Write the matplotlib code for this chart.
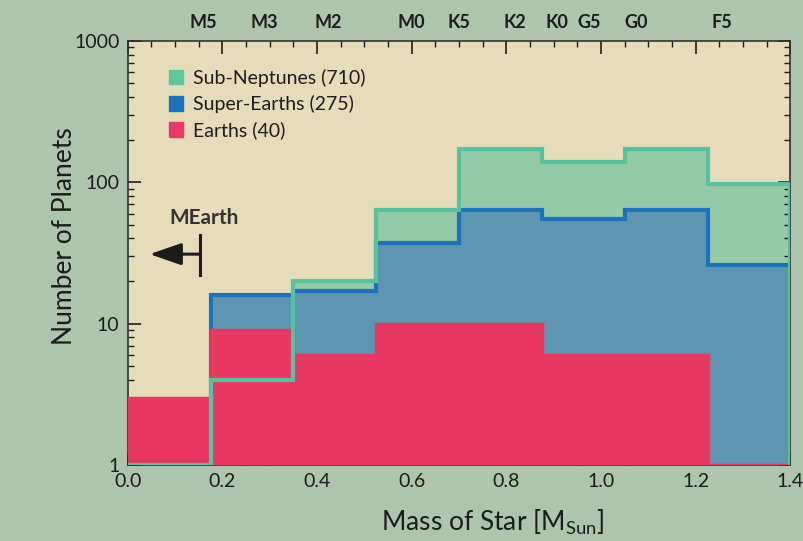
import matplotlib
matplotlib.use('Agg')
import matplotlib.pyplot as plt
from matplotlib.patches import Patch
from matplotlib.ticker import FixedLocator, MultipleLocator, NullFormatter

plt.rcParams['font.family'] = ['Lato', 'DejaVu Sans']
plt.rcParams['mathtext.fontset'] = 'custom'
plt.rcParams['mathtext.rm'] = 'Lato'

# bin edges in stellar mass (M_sun)
edges = [0.0, 0.175, 0.35, 0.525, 0.7, 0.875, 1.05, 1.225, 1.4]

# planets per bin
sub_neptunes = [1, 4, 20, 64, 173, 138, 171, 97]
super_earths = [1, 16, 17, 37, 64, 55, 64, 26]
earths = [3, 9, 6, 10, 10, 6, 6, 1]

labels = ['Sub-Neptunes (710)', 'Super-Earths (275)', 'Earths (40)']

# spectral types on the top axis
spec_types = ['M5', 'M3', 'M2', 'M0', 'K5', 'K2', 'K0', 'G5', 'G0', 'F5']
spec_mass = [0.16, 0.289, 0.423, 0.598, 0.70, 0.818, 0.907, 0.975, 1.075, 1.255]

bg_out = '#adc4ad'
bg_in = '#e6dcba'
green_fill = '#94caa8'
green_line = '#55c3a0'
blue_fill = '#5e96b2'
blue_line = '#1973be'
red = '#e83862'
ink = '#1c1c1c'

fig = plt.figure(figsize=(8.04, 5.41), dpi=100, facecolor=bg_out)
ax = fig.add_axes([0.159, 0.1405, 0.824, 0.784])
ax.set_facecolor(bg_in)
ax.set_yscale('log')

# fills, bottom to top
ax.stairs(sub_neptunes, edges, baseline=1, fill=True, color=green_fill, zorder=1)
ax.stairs(super_earths, edges, baseline=1, fill=True, color=blue_fill, zorder=2)
ax.stairs(super_earths, edges, baseline=1, fill=False, color=blue_line, lw=3, zorder=3)
ax.stairs(earths, edges, baseline=1, fill=True, color=red, zorder=4)
ax.stairs(earths, edges, baseline=1, fill=False, color=red, lw=2.5, zorder=4)
ax.stairs(sub_neptunes, edges, baseline=1, fill=False, color=green_line, lw=3, zorder=5)

ax.set_xlim(0, 1.4)
ax.set_ylim(1, 1000)

ax.xaxis.set_major_locator(MultipleLocator(0.2))
ax.xaxis.set_minor_locator(MultipleLocator(0.05))
ax.set_xticklabels([f'{v:.1f}' for v in ax.get_xticks()])
ax.yaxis.set_major_locator(FixedLocator([1, 10, 100, 1000]))
ax.set_yticklabels(['1', '10', '100', '1000'])
ax.yaxis.set_minor_formatter(NullFormatter())

ax.tick_params(which='both', direction='in', top=True, right=True,
               labelsize=14, colors=ink, pad=6)
ax.tick_params(which='major', length=9, width=1.2)
ax.tick_params(which='minor', length=4.5, width=1.0)
for s in ax.spines.values():
    s.set_color('#333333')
    s.set_linewidth(1.2)

ax.set_xlabel(r'Mass of Star [$\mathrm{M_{Sun}}$]', fontsize=19, color=ink)
ax.xaxis.set_label_coords(0.551, -0.1)
ax.set_ylabel('Number of Planets', fontsize=19, color=ink)
ax.yaxis.set_label_coords(-0.076, 0.54)

# spectral type labels along the top
top = ax.secondary_xaxis('top')
top.set_xticks(spec_mass)
top.set_xticklabels(spec_types, fontsize=13, fontweight='bold', color=ink)
top.tick_params(length=0, pad=7)
top.spines['top'].set_visible(False)

# MEarth survey limit
ax.annotate('', xy=(0.046, 31), xytext=(0.152, 31),
            arrowprops=dict(arrowstyle='-|>,head_length=1.3,head_width=0.45',
                            mutation_scale=15, color=ink, lw=2.2,
                            shrinkA=0, shrinkB=0))
ax.plot([0.152, 0.152], [22, 42], color=ink, lw=2.2)
ax.text(0.161, 56, 'MEarth', fontsize=15, fontweight='bold', color='#333333',
        ha='center', va='center')

handles = [Patch(color='#5cc8a0'), Patch(color=blue_line), Patch(color='#e8386a')]
ax.legend(handles, labels, loc='upper left', bbox_to_anchor=(0.035, 0.975),
          frameon=False, fontsize=14, handlelength=0.75, handleheight=0.75,
          handletextpad=0.5, labelspacing=0.42, labelcolor=ink)

fig.savefig('out.png', dpi=100, facecolor=bg_out)
